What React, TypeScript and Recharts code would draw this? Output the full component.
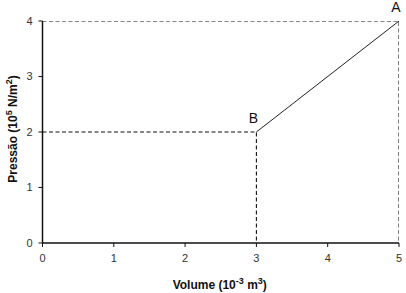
import { LineChart, Line, XAxis, YAxis, LabelList } from 'recharts'

const volumeTicks = [0, 1, 2, 3, 4, 5]
const pressureTicks = [0, 1, 2, 3, 4]

// process B -> A
const processLine = [
  { v: 3, p: 2, name: 'B' },
  { v: 5, p: 4, name: 'A' },
]

// dashed guides to the axes
const guideA = [
  { v: 0, p: 4 },
  { v: 5, p: 4 },
  { v: 5, p: 0 },
]
const guideB = [
  { v: 0, p: 2 },
  { v: 3, p: 2 },
  { v: 3, p: 0 },
]

const font = 'Liberation Sans, Arial, sans-serif'

const renderPointLabel = (props: any) => {
  const { x, y, value } = props
  return (
    <text x={x - 3} y={y - 9} textAnchor="middle" fontSize={14} fontFamily={font} fill="#111">
      {value}
    </text>
  )
}

const XTitle = (props: any) => {
  const { viewBox } = props
  const cx = viewBox.x + viewBox.width / 2 - 1
  return (
    <text x={cx} y={289} textAnchor="middle" fontSize={12} fontWeight="bold" fontFamily={font} fill="#111">
      Volume (10
      <tspan fontSize={9} dy={-5}>-3</tspan>
      <tspan dy={5}> m</tspan>
      <tspan fontSize={9} dy={-5}>3</tspan>
      <tspan dy={5}>)</tspan>
    </text>
  )
}

const YTitle = () => (
  <text
    x={0}
    y={0}
    transform="translate(17, 129) rotate(-90)"
    textAnchor="middle"
    fontSize={12}
    fontWeight="bold"
    fontFamily={font}
    fill="#111"
  >
    Pressão (10
    <tspan fontSize={9} dy={-5}>5</tspan>
    <tspan dy={5}> N/m</tspan>
    <tspan fontSize={9} dy={-5}>2</tspan>
    <tspan dy={5}>)</tspan>
  </text>
)

export default function App() {
  return (
    <div style={{ position: 'absolute', left: 0, top: 0, width: 406, height: 293, background: '#fff' }}>
      <LineChart width={406} height={293} margin={{ top: 21, right: 7, bottom: 0, left: 12 }}>
        <XAxis
          type="number"
          dataKey="v"
          domain={[0, 5]}
          ticks={volumeTicks}
          allowDataOverflow
          height={50}
          tickSize={4}
          tickMargin={7}
          axisLine={{ stroke: '#111', strokeWidth: 1.5 }}
          tickLine={{ stroke: '#111', strokeWidth: 1 }}
          tick={{ fontSize: 11, fill: '#333', fontFamily: font }}
          label={<XTitle />}
        />
        <YAxis
          type="number"
          dataKey="p"
          domain={[0, 4]}
          ticks={pressureTicks}
          allowDataOverflow
          width={30.5}
          tickSize={4}
          tickMargin={6}
          axisLine={{ stroke: '#111', strokeWidth: 1.5 }}
          tickLine={{ stroke: '#111', strokeWidth: 1 }}
          tick={{ fontSize: 11, fill: '#333', fontFamily: font }}
          label={<YTitle />}
        />
        <Line
          data={guideA}
          dataKey="p"
          stroke="#111"
          strokeWidth={1.1}
          strokeDasharray="4 2.5"
          dot={false}
          activeDot={false}
          isAnimationActive={false}
        />
        <Line
          data={guideB}
          dataKey="p"
          stroke="#111"
          strokeWidth={1.1}
          strokeDasharray="4 2.5"
          dot={false}
          activeDot={false}
          isAnimationActive={false}
        />
        <Line
          data={processLine}
          dataKey="p"
          stroke="#222"
          strokeWidth={1}
          dot={false}
          activeDot={false}
          isAnimationActive={false}
        >
          <LabelList dataKey="name" content={renderPointLabel} />
        </Line>
      </LineChart>
    </div>
  )
}
